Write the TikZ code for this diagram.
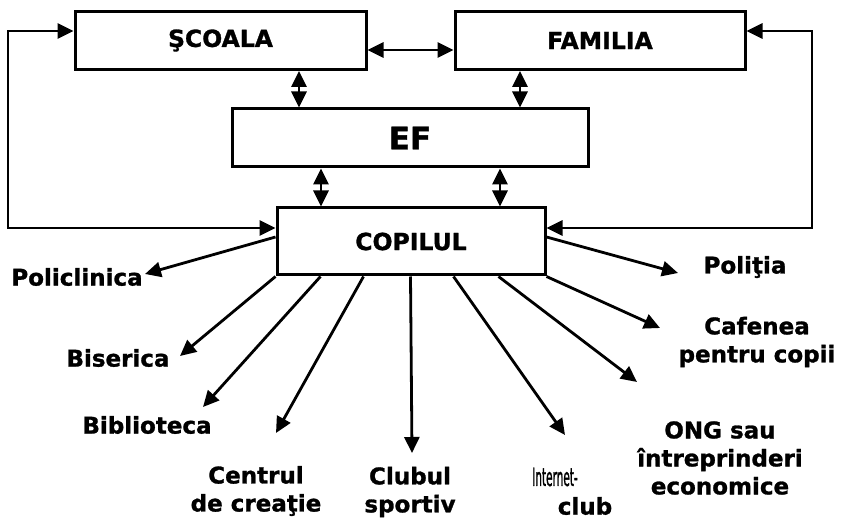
\documentclass[tikz,border=0pt]{standalone}
\usepackage{fontspec}
\setmainfont{DejaVu Sans}[BoldFeatures={FakeBold=1.2}]
\newfontfamily\intfont{DejaVu Sans}[FakeBold=1.5]
\usetikzlibrary{arrows.meta}
\begin{document}
\begin{tikzpicture}[x=1pt,y=-1pt,
  box/.style={draw,line width=3pt,inner sep=0pt,font=\bfseries\fontsize{23.5}{28}\selectfont},
  lbl/.style={font=\bfseries\fontsize{23}{28}\selectfont,align=center,inner sep=0pt},
  tip/.tip={Triangle[length=16pt,width=15pt]},
  arr/.style={line width=2.8pt,-tip},
  darr/.style={line width=2.8pt,tip-tip}]
\useasboundingbox (0,0) rectangle (843,521);
% boxes
\node[box,minimum width=291pt,minimum height=58pt] (scoala) at (220.5,40.5) {ŞCOALA};
\node[box,minimum width=290pt,minimum height=58pt] (familia) at (600,40.5) {FAMILIA};
\node[box,minimum width=356pt,minimum height=58pt,font=\bfseries\fontsize{31}{36}\selectfont] (ef) at (410,138) {EF};
\node[box,minimum width=268pt,minimum height=67pt] (copil) at (411,241.5) {COPILUL};
% helper coordinates
\coordinate (x1) at (299,0);
\coordinate (x2) at (520,0);
\coordinate (x3) at (321,0);
\coordinate (x4) at (500,0);
\coordinate (ytop) at (0,31);
\coordinate (ymid) at (0,50);
\coordinate (ylow) at (0,228);
\coordinate (lt) at (8,31);
\coordinate (lb) at (8,228);
\coordinate (rt) at (812,31);
\coordinate (rb) at (812,228);
% vertical links
\draw[darr] (scoala.south -| x1) -- (ef.north -| x1);
\draw[darr] (familia.south -| x2) -- (ef.north -| x2);
\draw[darr] (ef.south -| x3) -- (copil.north -| x3);
\draw[darr] (ef.south -| x4) -- (copil.north -| x4);
\draw[darr] (scoala.east |- ymid) -- (familia.west |- ymid);
% loops
\draw[darr,line join=miter] (copil.west |- ylow) -- (lb) -- (lt) -- (scoala.west |- ytop);
\draw[darr,line join=miter] (copil.east |- ylow) -- (rb) -- (rt) -- (familia.east |- ytop);
% labels
\node[lbl] (pol) at (77,277) {Policlinica};
\node[lbl] (bis) at (118,358) {Biserica};
\node[lbl] (bib) at (147,425) {Biblioteca};
\node[lbl] (cen) at (256,491) {Centrul\\de creaţie};
\node[lbl] (clu) at (410,492) {Clubul\\sportiv};
\node[lbl,font=\intfont\fontsize{25}{28}\selectfont] (int1) at (555,477) {\scalebox{0.42}[1]{Internet-}};
\node[lbl] (int2) at (585,506) {club};
\node[lbl] (ong) at (720,458) {ONG sau\\întreprinderi\\economice};
\node[lbl] (caf) at (757,342) {Cafenea\\pentru copii};
\node[lbl] (pti) at (745,267) {Poliţia};
% arrow ends
\coordinate (epol) at (145,274);
\coordinate (ebis) at (180,356);
\coordinate (ebib) at (203,407);
\coordinate (ecen) at (276,433);
\coordinate (eclu) at (412,453);
\coordinate (eint) at (565,435);
\coordinate (eong) at (637,382);
\coordinate (ecaf) at (660,328);
\coordinate (epti) at (678,273);
% outgoing arrows
\draw[arr] ([yshift=4.5pt]copil.west) -- (epol);
\draw[arr] (copil.south west) -- (ebis);
\draw[arr] ([xshift=45pt]copil.south west) -- (ebib);
\draw[arr] ([xshift=88pt]copil.south west) -- (ecen);
\draw[arr] ([xshift=135pt]copil.south west) -- (eclu);
\draw[arr] ([xshift=178pt]copil.south west) -- (eint);
\draw[arr] ([xshift=223pt]copil.south west) -- (eong);
\draw[arr] (copil.south east) -- (ecaf);
\draw[arr] ([yshift=4.5pt]copil.east) -- (epti);
\end{tikzpicture}
\end{document}
